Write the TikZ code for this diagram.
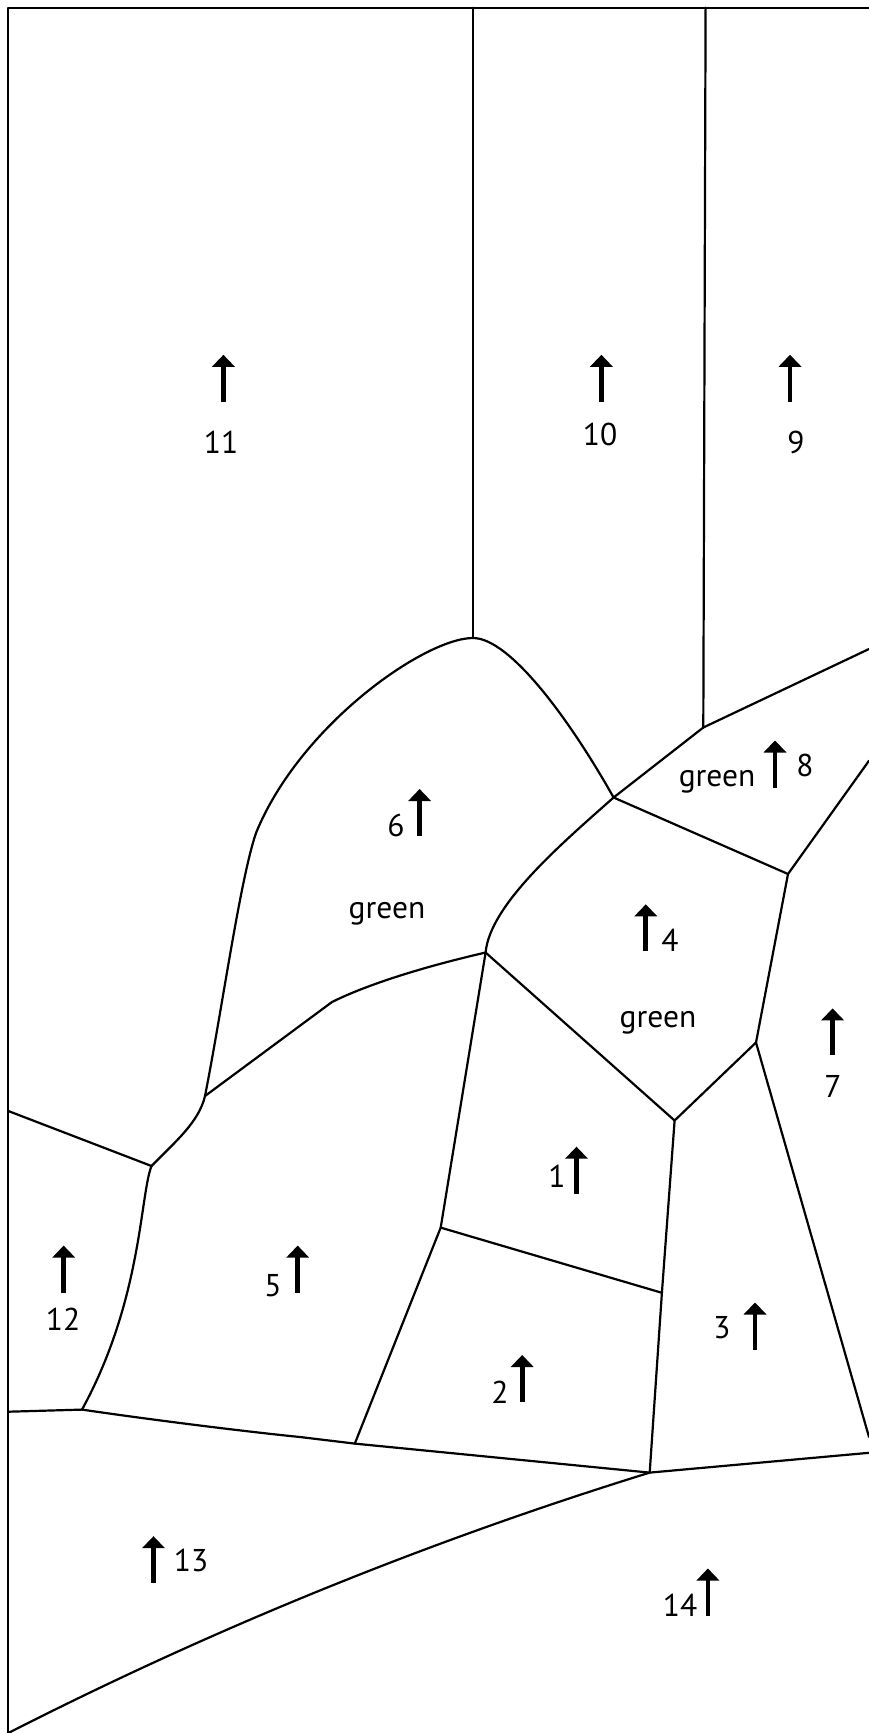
\documentclass[tikz,border=0pt]{standalone}
\usepackage{fontspec}
\setmainfont{PT Sans}
\begin{document}
\begin{tikzpicture}[x=1pt,y=-1pt,
  edge/.style={line width=2.2pt, line join=round, line cap=round},
  lbl/.style={font=\fontsize{31.5}{31.5}\selectfont, inner sep=0pt, anchor=base},
  uparrow/.pic={\fill (-2.35,0) rectangle (2.35,-36); \fill (-11.5,-35) -- (0,-47) -- (11.5,-35) -- cycle;}]
\fill[white] (0,0) rectangle (869,1733);
\useasboundingbox (0,0) rectangle (869,1733);
% vertices
\coordinate (TL) at (8.3,7.6);
\coordinate (TR) at (869,7.6);
\coordinate (T) at (8.3,1733);
\coordinate (Atop) at (473,7.6);
\coordinate (Ctop) at (705.6,7.6);
\coordinate (A) at (473,638);
\coordinate (B) at (613.6,797.5);
\coordinate (C) at (703.3,727.5);
\coordinate (D) at (869,649);
\coordinate (E) at (788,874);
\coordinate (F) at (869,760.7);
\coordinate (G) at (485.6,952.5);
\coordinate (H) at (756,1042.5);
\coordinate (I) at (674.6,1120.5);
\coordinate (J) at (205,1096);
\coordinate (K) at (151.5,1166);
\coordinate (L) at (8.3,1111);
\coordinate (M) at (440.7,1227.6);
\coordinate (N) at (661.9,1292.8);
\coordinate (O) at (82,1409.6);
\coordinate (P) at (8.3,1411.7);
\coordinate (Q) at (354.8,1443.6);
\coordinate (R) at (649.7,1472.6);
\coordinate (S) at (869,1452.8);
\coordinate (H2) at (869,1437);
\coordinate (A6) at (256,833);
\coordinate (GJ) at (332,1002);
\coordinate (OQ) at (300,1437);
% frame
\draw[edge] (TR) -- (TL) -- (T);
% boundaries
\draw[edge] (Atop) -- (A);
\draw[edge] (Ctop) -- (C);
\draw[edge] (A) .. controls (425,638) and (300,725) .. (A6) .. controls (240,880) and (222,1010) .. (J);
\draw[edge] (A) .. controls (510,638) and (570,720) .. (B);
\draw[edge] (B) .. controls (560,845) and (490,905) .. (G);
\draw[edge] (G) .. controls (410,970) and (360,988) .. (GJ) -- (J);
\draw[edge] (J) .. controls (199,1122) and (175,1142) .. (K);
\draw[edge] (L) -- (K);
\draw[edge] (K) .. controls (140,1195) and (142,1300) .. (O);
\draw[edge] (P) -- (O) .. controls (160,1421) and (250,1432) .. (OQ) -- (Q) -- (R) -- (S);
\draw[edge] (G) -- (M) -- (Q);
\draw[edge] (M) -- (N);
\draw[edge] (G) -- (I) -- (H) -- (E) -- (B) -- (C) -- (D);
\draw[edge] (E) -- (F);
\draw[edge] (H) -- (H2);
\draw[edge] (I) -- (N) -- (R);
\draw[edge] (R) .. controls (435.7,1538.9) and (222.3,1624) .. (T);
% arrows
\pic at (223.4,401.8) {uparrow};
\pic at (601.4,401.8) {uparrow};
\pic at (790,401.8) {uparrow};
\pic at (419.6,836) {uparrow};
\pic at (775,787.5) {uparrow};
\pic at (645.8,951.3) {uparrow};
\pic at (832.6,1055.4) {uparrow};
\pic at (576.5,1193.7) {uparrow};
\pic at (63.7,1292.6) {uparrow};
\pic at (297.7,1292.6) {uparrow};
\pic at (755,1349.5) {uparrow};
\pic at (522.2,1402) {uparrow};
\pic at (153.5,1583.2) {uparrow};
\pic at (707.9,1615.5) {uparrow};
% labels
\node[lbl] (t11) at (221,453) {11};
\node[lbl] (t10) at (600,445) {10};
\node[lbl] (t9) at (796,453) {9};
\node[lbl] (t6) at (396,836) {6};
\node[lbl] (g6) at (387,918.8) {green};
\node[lbl] (g8) at (717,786.4) {green};
\node[lbl] (t8) at (805,776) {8};
\node[lbl] (t4) at (670,951) {4};
\node[lbl] (g4) at (658,1027.5) {green};
\node[lbl] (t7) at (833,1097.5) {7};
\node[lbl] (t1) at (557,1187) {1};
\node[lbl] (t12) at (63,1330) {12};
\node[lbl] (t5) at (273,1296) {5};
\node[lbl] (t3) at (722,1338) {3};
\node[lbl] (t2) at (500,1403) {2};
\node[lbl] (t13) at (191,1571.5) {13};
\node[lbl] (t14) at (680,1616) {14};
\end{tikzpicture}
\end{document}
